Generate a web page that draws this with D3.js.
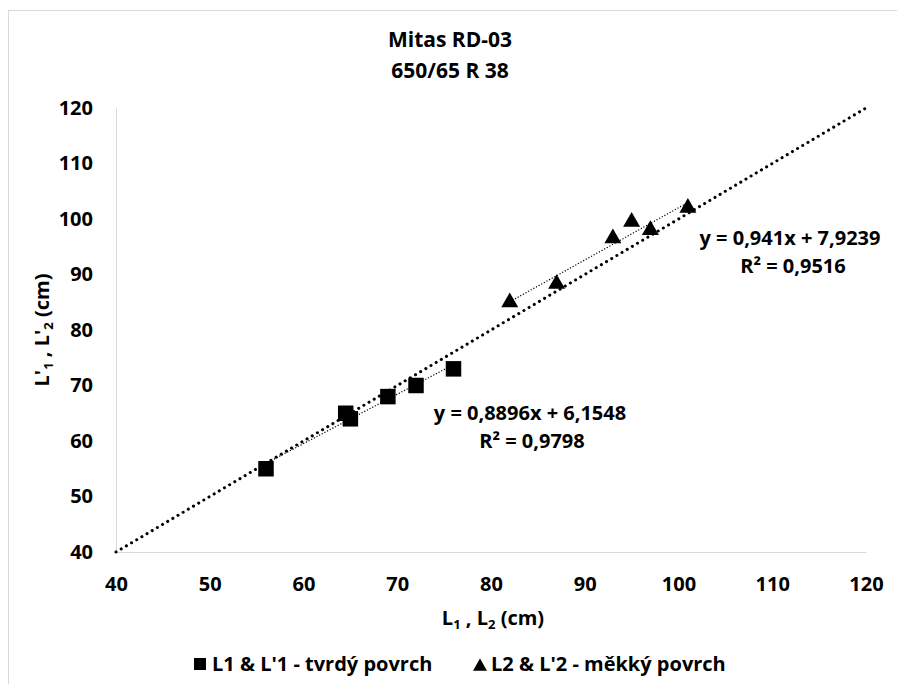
<!DOCTYPE html>
<html><head><meta charset="utf-8">
<script src="https://cdn.jsdelivr.net/npm/d3@7"></script>
<style>
body{margin:0;background:#fff;}
svg{font-family:"Open Sans",sans-serif;font-weight:bold;}
</style></head>
<body>
<svg id="chart" width="897" height="684"></svg>
<script>
const titleLines = ["Mitas RD-03", "650/65 R 38"];
const hardX = [56, 64.5, 65, 69, 72, 76];
const hardY = [55, 65, 64, 68, 70, 73];
const softX = [82, 87, 93, 95, 97, 101];
const softY = [85, 88.3, 96.5, 99.5, 98, 102];
const hardFit = {slope: 0.8896, intercept: 6.1548, r2: "0,9798", eq: "y = 0,8896x + 6,1548"};
const softFit = {slope: 0.941, intercept: 7.9239, r2: "0,9516", eq: "y = 0,941x + 7,9239"};
const xTicks = [40, 50, 60, 70, 80, 90, 100, 110, 120];
const yTicks = [40, 50, 60, 70, 80, 90, 100, 110, 120];
const legendLabels = ["L1 & L'1 - tvrdý povrch", "L2 & L'2 - měkký povrch"];

const FS = 20, EQ = 20, LG = 20, SUB = 13;
const svg = d3.select("#chart");
svg.append("rect").attr("x",8.5).attr("y",10.5).attr("width",1000).attr("height",1000)
  .attr("fill","none").attr("stroke","#d9d9d9");

const x = d3.scaleLinear().domain([40,120]).range([116,866]);
const y = d3.scaleLinear().domain([40,120]).range([552,108]);

// title
svg.append("text").attr("x",450).attr("y",47).attr("text-anchor","middle")
  .attr("font-size",21).text(titleLines[0]);
svg.append("text").attr("x",450).attr("y",78).attr("text-anchor","middle")
  .attr("font-size",21).text(titleLines[1]);

// axes
const xAxis = d3.axisBottom(x).tickValues(xTicks).tickSize(0).tickPadding(25);
const gx = svg.append("g").attr("transform",`translate(0,${y(40)})`).call(xAxis);
gx.select(".domain").attr("stroke","#d9d9d9");
gx.selectAll("text").attr("font-size",FS).attr("font-family","Open Sans").attr("font-weight","bold").attr("fill","#000");

const yAxis = d3.axisLeft(y).tickValues(yTicks).tickSize(0).tickPadding(23);
const gy = svg.append("g").attr("transform",`translate(${x(40)},0)`).call(yAxis);
gy.select(".domain").attr("stroke","#d9d9d9");
gy.selectAll("text").attr("font-size",FS).attr("font-family","Open Sans").attr("font-weight","bold").attr("fill","#000");

// axis titles
const xt = svg.append("text").attr("x",493).attr("y",625).attr("text-anchor","middle").attr("font-size",FS);
xt.append("tspan").text("L");
xt.append("tspan").attr("font-size",SUB).attr("dy",4).text("1");
xt.append("tspan").attr("dy",-4).text(" , L");
xt.append("tspan").attr("font-size",SUB).attr("dy",4).text("2");
xt.append("tspan").attr("dy",-4).text(" (cm)");

const yt = svg.append("text").attr("transform","translate(49,330) rotate(-90)").attr("text-anchor","middle").attr("font-size",FS);
yt.append("tspan").text("L'");
yt.append("tspan").attr("font-size",SUB).attr("dy",4).text("1");
yt.append("tspan").attr("dy",-4).text(" , L'");
yt.append("tspan").attr("font-size",SUB).attr("dy",4).text("2");
yt.append("tspan").attr("dy",-4).text(" (cm)");

// identity line
svg.append("line").attr("x1",x(40)).attr("y1",y(40)).attr("x2",x(120)).attr("y2",y(120))
  .attr("stroke","#000").attr("stroke-width",3).attr("stroke-linecap","round")
  .attr("stroke-dasharray","0.1,5.9");

// trendlines
function trend(xs, fit){
  const x0 = d3.min(xs), x1 = d3.max(xs);
  svg.append("line").attr("x1",x(x0)).attr("y1",y(fit.slope*x0+fit.intercept))
    .attr("x2",x(x1)).attr("y2",y(fit.slope*x1+fit.intercept))
    .attr("stroke","#000").attr("stroke-width",1.2).attr("stroke-dasharray","1.2,1.8");
}
trend(hardX, hardFit);
trend(softX, softFit);

// markers
const sq = d3.symbol().type(d3.symbolSquare).size(240);
const tri = d3.symbol().type(d3.symbolTriangle).size(125);
svg.append("g").selectAll("path").data(hardX.map((d,i)=>[d,hardY[i]])).join("path")
  .attr("d",sq).attr("transform",d=>`translate(${x(d[0])},${y(d[1])})`).attr("fill","#000");
svg.append("g").selectAll("path").data(softX.map((d,i)=>[d,softY[i]])).join("path")
  .attr("d",tri).attr("transform",d=>`translate(${x(d[0])},${y(d[1])})`).attr("fill","#000");

// equations
svg.append("text").attr("x",530).attr("y",420).attr("text-anchor","middle").attr("font-size",EQ).text(hardFit.eq);
svg.append("text").attr("x",532).attr("y",448).attr("text-anchor","middle").attr("font-size",EQ).text("R² = " + hardFit.r2);
svg.append("text").attr("x",790).attr("y",245).attr("text-anchor","middle").attr("font-size",EQ).text(softFit.eq);
svg.append("text").attr("x",793).attr("y",273).attr("text-anchor","middle").attr("font-size",EQ).text("R² = " + softFit.r2);

// legend
svg.append("rect").attr("x",194).attr("y",658).attr("width",12).attr("height",12).attr("fill","#000");
svg.append("text").attr("x",212).attr("y",671).attr("font-size",LG).text(legendLabels[0]);
svg.append("path").attr("d",d3.symbol().type(d3.symbolTriangle).size(85)).attr("transform","translate(480,666.7)").attr("fill","#000");
svg.append("text").attr("x",491).attr("y",671).attr("font-size",LG).text(legendLabels[1]);
</script>
</body></html>
